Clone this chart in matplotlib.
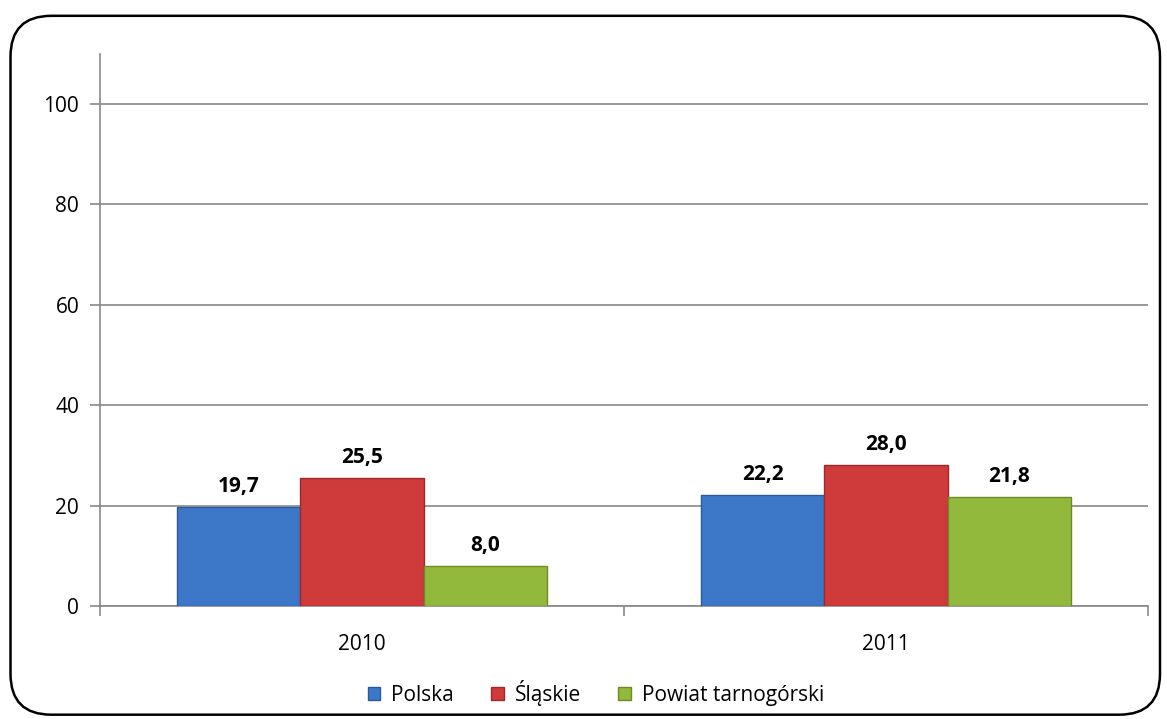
import matplotlib.pyplot as plt
import numpy as np
from matplotlib.patches import FancyBboxPatch

# Data
years = ["2010", "2011"]
series = ["Polska", "Śląskie", "Powiat tarnogórski"]
polska = [19.7, 22.2]
slaskie = [25.5, 28.0]
powiat = [8.0, 21.8]

colors = ["#3d78c8", "#cf3b3b", "#93b93c"]
edges = ["#2b5a9a", "#9c2a2a", "#6c8a28"]

plt.rcParams['font.family'] = ['Open Sans', 'DejaVu Sans']

fig = plt.figure(figsize=(11.67, 7.19), dpi=100)
ax = fig.add_axes([0.0857, 0.1572, 0.898, 0.7678])

# rounded frame round the whole chart
frame = FancyBboxPatch((0.009, 0.006), 0.985, 0.972,
                       boxstyle="round,pad=0,rounding_size=0.035",
                       transform=fig.transFigure, fill=False,
                       edgecolor="black", linewidth=1.8, mutation_aspect=1167/719)
fig.patches.append(frame)

x = np.arange(len(years))
w = 0.235
vals = [polska, slaskie, powiat]
for i, v in enumerate(vals):
    pos = x + (i - 1) * w
    ax.bar(pos, v, w, color=colors[i], edgecolor=edges[i], linewidth=1,
           label=series[i], zorder=3)
    for px, val in zip(pos, v):
        ax.text(px, val + 2.0, f"{val:.1f}".replace(".", ","), ha="center",
                va="bottom", fontsize=15, fontweight="bold", zorder=4)

ax.set_ylim(0, 110)
ax.set_xlim(-0.5, 1.5)
ax.set_yticks([0, 20, 40, 60, 80, 100])
ax.yaxis.grid(True, color="#888888", linewidth=1.2, zorder=0)
ax.set_axisbelow(True)

ax.set_xticks([-0.5, 0.5, 1.5])
ax.set_xticklabels([])
ax.set_xticks(x, minor=True)
ax.set_xticklabels(years, minor=True, fontsize=15)
ax.tick_params(axis="x", which="major", length=7, color="#888888", width=1.2)
ax.tick_params(axis="x", which="minor", length=0, pad=20)
ax.tick_params(axis="y", length=7, color="#888888", width=1.2, labelsize=15, pad=8)

for s in ["top", "right"]:
    ax.spines[s].set_visible(False)
ax.spines["left"].set_color("#888888")
ax.spines["bottom"].set_color("#888888")
ax.spines["left"].set_linewidth(1.2)
ax.spines["bottom"].set_linewidth(1.2)

ax.legend(loc="lower center", bbox_to_anchor=(0.473, -0.215), ncol=3, frameon=False,
          fontsize=15, handlelength=0.62, handleheight=0.62, handletextpad=0.5,
          columnspacing=1.8)

fig.savefig("out.png", dpi=100)
